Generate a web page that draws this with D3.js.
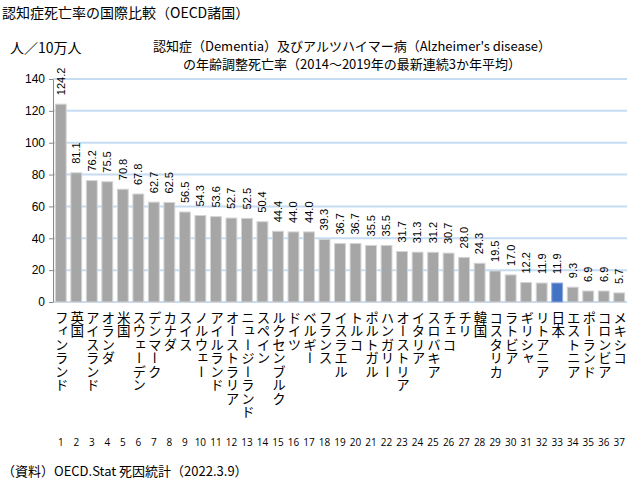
<!DOCTYPE html>
<html>
<head>
<meta charset="utf-8">
<script src="https://cdn.jsdelivr.net/npm/d3@7"></script>
<style>
  body { margin: 0; background: #fff; }
  text { font-family: "Noto Sans CJK JP", "Liberation Sans", sans-serif; }
</style>
</head>
<body>
<script>
// country names and age-adjusted death rates (per 100k)
const countries = ["フィンランド", "英国", "アイスランド", "オランダ", "米国", "スウェーデン", "デンマーク",
  "カナダ", "スイス", "ノルウェー", "アイルランド", "オーストラリア", "ニュージーランド", "スペイン",
  "ルクセンブルク", "ドイツ", "ベルギー", "フランス", "イスラエル", "トルコ", "ポルトガル", "ハンガリー",
  "オーストリア", "イタリア", "スロバキア", "チェコ", "チリ", "韓国", "コスタリカ", "ラトビア",
  "ギリシャ", "リトアニア", "日本", "エストニア", "ポーランド", "コロンビア", "メキシコ"];
const rates = [124.2, 81.1, 76.2, 75.5, 70.8, 67.8, 62.7, 62.5, 56.5, 54.3, 53.6, 52.7, 52.5, 50.4,
  44.4, 44.0, 44.0, 39.3, 36.7, 36.7, 35.5, 35.5, 31.7, 31.3, 31.2, 30.7, 28.0, 24.3, 19.5, 17.0,
  12.2, 11.9, 11.9, 9.3, 6.9, 6.9, 5.7];
const yTicks = [0, 20, 40, 60, 80, 100, 120, 140];
const highlight = "日本";

const W = 644, H = 484;
const margin = { top: 79, right: 17, bottom: 182, left: 53 };
const width = W - margin.left - margin.right;
const height = H - margin.top - margin.bottom;

const svg = d3.select('body').append('svg')
    .attr('width', W)
    .attr('height', H);

// titles
svg.append('text')
    .attr('x', 2).attr('y', 18)
    .style('font-size', '14px')
    .text('認知症死亡率の国際比較（OECD諸国）');

svg.append('text')
    .attr('x', 352).attr('y', 51)
    .attr('text-anchor', 'middle')
    .style('font-size', '13px')
    .text('認知症（Dementia）及びアルツハイマー病（Alzheimer\'s disease）');

svg.append('text')
    .attr('x', 352).attr('y', 69)
    .attr('text-anchor', 'middle')
    .style('font-size', '13px')
    .text('の年齢調整死亡率（2014～2019年の最新連続3か年平均）');

svg.append('text')
    .attr('x', 10).attr('y', 53)
    .style('font-size', '14px')
    .text('人／10万人');

svg.append('text')
    .attr('x', 2).attr('y', 476)
    .style('font-size', '13px')
    .text('（資料）OECD.Stat 死因統計（2022.3.9）');

const g = svg.append('g')
    .attr('transform', `translate(${margin.left},${margin.top})`);

const x = d3.scaleBand()
    .domain(countries)
    .range([0, width])
    .paddingInner(0.3)
    .paddingOuter(0.15);

const y = d3.scaleLinear()
    .domain([0, 140])
    .range([height, 0]);

// gridlines
g.selectAll('line.grid')
    .data(yTicks)
    .enter().append('line')
    .attr('class', 'grid')
    .attr('x1', 0).attr('x2', width)
    .attr('y1', d => y(d)).attr('y2', d => y(d))
    .style('stroke', '#c6dcf3')
    .style('stroke-width', 2);

// bars
g.selectAll('rect.bar')
    .data(countries)
    .enter().append('rect')
    .attr('class', 'bar')
    .attr('x', d => x(d))
    .attr('y', (d, i) => y(rates[i]))
    .attr('width', x.bandwidth())
    .attr('height', (d, i) => y(0) - y(rates[i]))
    .style('fill', d => d === highlight ? '#4472c4' : '#a6a6a6')
    .style('stroke', d => d === highlight ? '#8faadc' : '#d4d4d4')
    .style('stroke-width', 1);

// value labels
g.selectAll('text.val')
    .data(countries)
    .enter().append('text')
    .attr('class', 'val')
    .attr('transform', (d, i) => `translate(${x(d) + x.bandwidth() / 2},${y(rates[i]) - 9}) rotate(-90)`)
    .attr('dy', '0.35em')
    .style('font-family', '"Liberation Sans", Arial, sans-serif')
    .style('font-size', '11px')
    .text((d, i) => rates[i].toFixed(1));

// y axis
const yAxis = g.append('g')
    .call(d3.axisLeft(y).tickValues(yTicks).tickSize(4).tickSizeOuter(0));
yAxis.select('.domain').style('stroke', '#888');
yAxis.selectAll('.tick line').style('stroke', '#888');
yAxis.selectAll('.tick text')
    .style('font-family', '"Liberation Sans", Arial, sans-serif')
    .style('font-size', '12px')
    .attr('x', -8);

// vertical country names
g.selectAll('text.cname')
    .data(countries)
    .enter().append('text')
    .attr('class', 'cname')
    .attr('x', d => x(d) + x.bandwidth() / 2 + 1)
    .attr('y', height + 9)
    .style('writing-mode', 'vertical-rl')
    .style('text-orientation', 'upright')
    .style('font-size', '13.5px')
    .text(d => d);

// index numbers
g.selectAll('text.idx')
    .data(countries)
    .enter().append('text')
    .attr('class', 'idx')
    .attr('x', d => x(d) + x.bandwidth() / 2)
    .attr('y', height + 144)
    .attr('text-anchor', 'middle')
    .style('font-family', '"Open Sans", sans-serif')
    .style('font-size', '10px')
    .text((d, i) => i + 1);
</script>
</body>
</html>
